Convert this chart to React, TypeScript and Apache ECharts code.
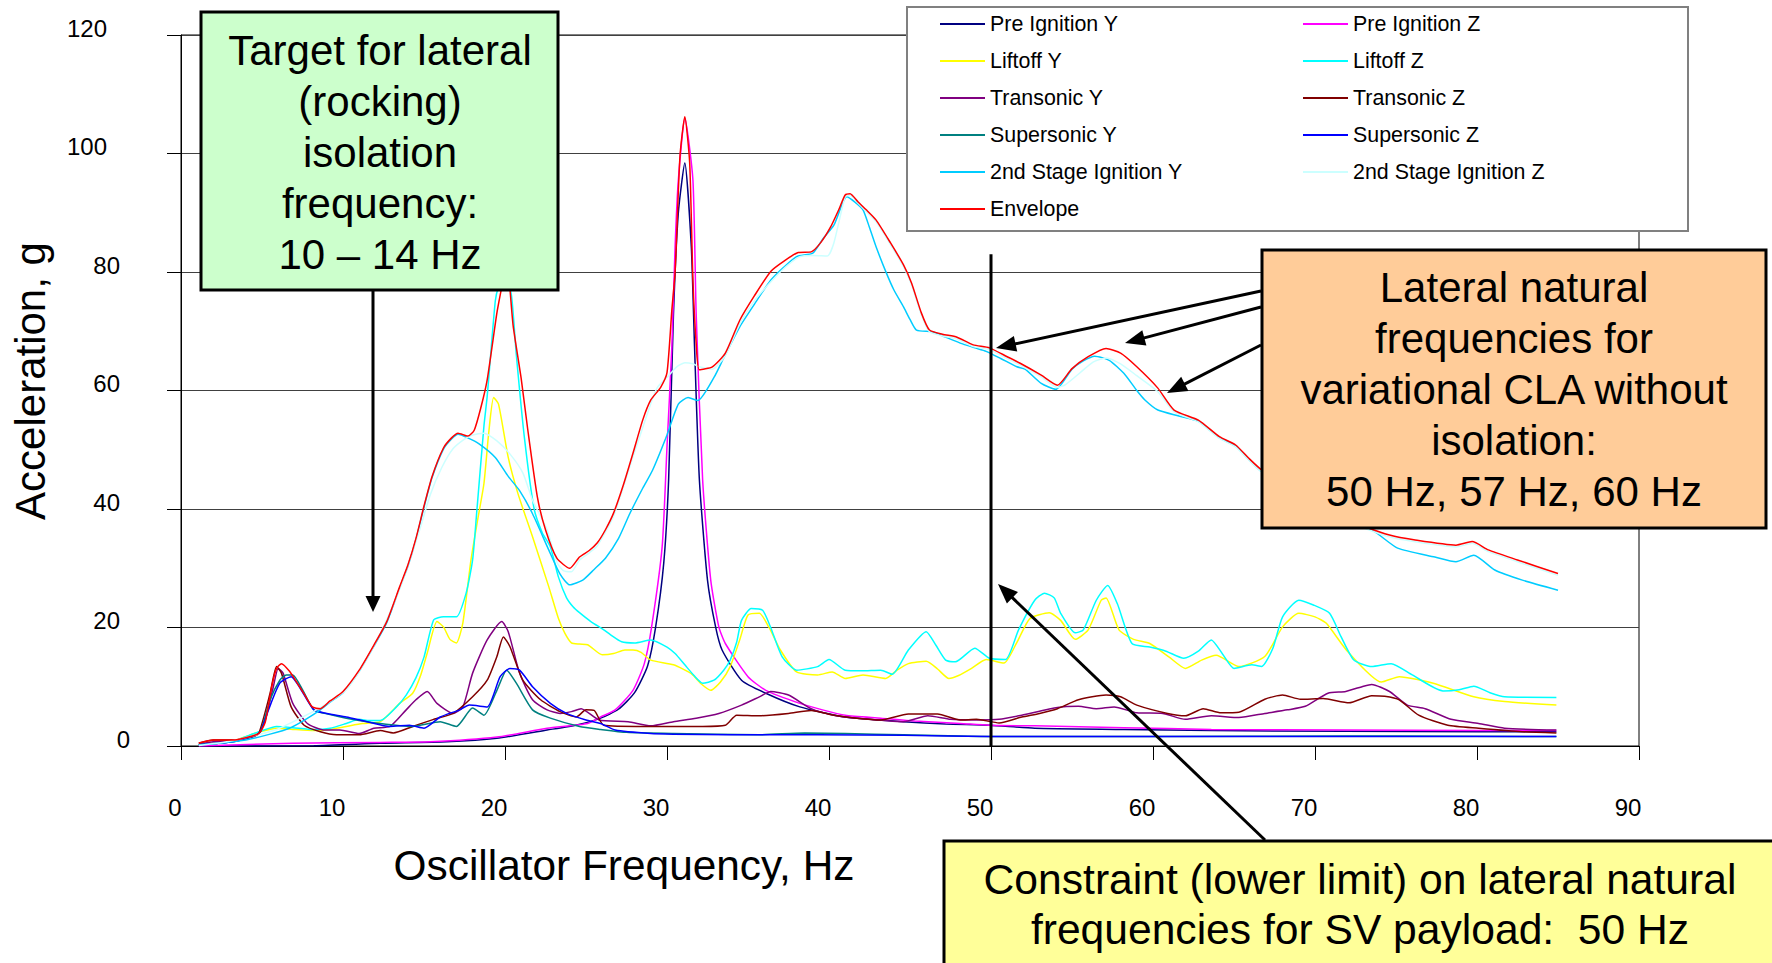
import React, { useEffect, useRef } from "react";
import * as echarts from "echarts";

const FONT = "'Liberation Sans', Arial, sans-serif";

const seriesNames = [
  "Pre Ignition Y", "Pre Ignition Z", "Liftoff Y", "Liftoff Z",
  "Transonic Y", "Transonic Z", "Supersonic Y", "Supersonic Z",
  "2nd Stage Ignition Y", "2nd Stage Ignition Z", "Envelope",
];
const seriesColors = [
  "#000080", "#FF00FF", "#FFFF00", "#00FFFF",
  "#800080", "#800000", "#008080", "#0000FF",
  "#00CCFF", "#CCFFFF", "#FF0000",
];
const legendLeftNames = ["Pre Ignition Y", "Liftoff Y", "Transonic Y", "Supersonic Y", "2nd Stage Ignition Y", "Envelope"];
const legendRightNames = ["Pre Ignition Z", "Liftoff Z", "Transonic Z", "Supersonic Z", "2nd Stage Ignition Z"];

const xTicks = [0, 10, 20, 30, 40, 50, 60, 70, 80, 90];
const yTicks = [0, 20, 40, 60, 80, 100, 120];

// [frequency Hz, acceleration g]
const preIgnitionY = [[1.1,0.0],[8.2,0.05],[12.3,0.45],[16.4,0.7],[19.5,1.3],[22.6,2.7],[24.5,3.6],[25.9,4.7],[27.0,6.2],[28.0,9.0],[28.8,13.5],[29.3,20.1],[29.8,30.9],[30.1,44.9],[30.4,73.0],[30.7,90.0],[31.1,98.4],[31.5,84.3],[31.7,67.4],[32.0,44.9],[32.5,28.0],[33.0,20.1],[33.4,16.2],[34.6,11.1],[36.1,8.9],[38.2,6.6],[41.0,4.9],[44.6,4.1],[47.2,3.7],[49.9,3.5],[52.7,3.0],[58.2,2.8],[63.6,2.6],[80.1,2.4],[84.9,2.4]];
const preIgnitionZ = [[1.1,0.0],[6.9,0.45],[12.3,0.6],[15.4,0.7],[19.5,1.5],[22.6,3.0],[25.1,3.8],[25.9,4.9],[26.8,6.1],[27.9,9.4],[28.6,13.9],[29.05,20.1],[29.7,33.6],[30.0,50.5],[30.3,67.4],[30.5,84.3],[30.7,95.5],[31.1,106.0],[31.6,95.5],[31.8,73.0],[32.2,44.9],[32.7,28.0],[33.2,20.1],[33.6,17.3],[35.0,11.7],[36.1,9.4],[38.2,7.2],[39.6,6.1],[41.0,5.2],[43.2,4.7],[45.3,4.2],[48.1,3.8],[49.9,3.5],[52.7,3.4],[58.2,3.1],[63.6,2.8],[71.9,2.7],[80.1,2.6],[84.9,2.6]];
const liftoffY = [[1.1,0.2],[2.2,0.5],[3.2,0.8],[4.2,1.8],[4.9,2.4],[5.9,3.0],[6.9,2.8],[8.2,2.6],[9.2,2.8],[10.2,3.3],[11.2,3.8],[12.3,4.1],[13.5,7.2],[14.3,8.9],[14.8,12.0],[15.2,15.7],[15.8,21.0],[16.2,20.1],[16.6,18.0],[17.0,17.4],[17.4,20.8],[17.9,31.4],[18.3,38.0],[18.7,44.3],[19.0,53.0],[19.3,58.8],[19.6,57.7],[20.2,48.7],[20.8,42.6],[21.7,35.3],[22.7,26.9],[23.3,21.5],[23.7,19.0],[24.1,17.4],[24.6,17.2],[25.1,17.1],[26.0,15.4],[26.7,15.6],[27.4,16.2],[27.9,16.2],[28.4,15.8],[29.0,14.5],[30.4,13.7],[31.5,12.2],[32.1,10.5],[32.7,9.4],[33.3,10.8],[33.9,13.4],[34.5,18.0],[35.0,22.1],[35.7,22.4],[36.3,20.0],[37.0,16.2],[38.0,12.5],[39.3,12.0],[40.2,12.5],[41.0,11.4],[42.1,12.0],[43.5,11.4],[44.2,12.8],[44.9,13.9],[46.0,14.3],[46.7,13.0],[47.4,11.4],[48.0,11.9],[48.8,13.1],[49.7,14.6],[50.8,14.0],[51.6,17.5],[52.4,21.5],[53.6,22.5],[54.3,21.2],[55.2,18.0],[56.0,19.6],[56.8,24.6],[57.1,25.0],[57.9,19.6],[58.8,18.0],[59.8,17.3],[61.0,15.0],[62.0,13.1],[63.0,14.5],[63.9,15.3],[65.3,13.4],[66.9,15.1],[68.0,20.1],[69.0,22.4],[70.0,21.8],[70.7,20.7],[72.0,16.0],[74.1,10.8],[75.2,11.7],[77.3,10.6],[79.8,8.3],[81.7,7.5],[84.9,6.9]];
const liftoffZ = [[1.1,0.2],[2.2,0.5],[3.2,0.8],[4.2,1.8],[4.9,2.5],[5.9,3.3],[6.9,3.1],[8.2,2.8],[9.2,3.0],[10.2,3.8],[11.0,4.5],[11.6,4.3],[12.3,4.3],[13.3,6.6],[13.9,8.6],[14.5,11.5],[15.0,15.0],[15.6,21.3],[16.2,21.8],[17.0,21.8],[17.6,25.8],[18.0,31.4],[18.25,39.3],[18.7,54.0],[18.9,59.0],[19.4,75.1],[19.6,77.5],[20.0,80.0],[20.4,76.0],[20.7,66.0],[21.2,52.0],[21.8,40.0],[22.3,36.0],[22.8,33.6],[23.3,28.5],[23.8,25.0],[24.2,23.5],[24.6,22.5],[25.3,21.0],[26.1,19.6],[26.5,18.8],[27.2,17.6],[28.0,17.4],[29.0,17.9],[30.0,16.7],[30.5,15.6],[31.1,13.7],[31.7,11.8],[32.2,10.6],[32.9,11.1],[33.5,12.8],[33.9,14.5],[34.3,17.5],[34.6,21.2],[35.2,23.2],[35.9,22.9],[36.4,20.0],[37.1,15.1],[38.0,12.8],[39.3,13.4],[40.0,14.6],[41.0,12.8],[42.0,12.7],[43.2,12.8],[43.9,12.1],[44.9,16.2],[46.0,19.3],[46.6,17.0],[47.2,14.5],[47.8,14.2],[49.0,16.5],[49.9,14.8],[50.9,14.6],[51.7,19.6],[52.7,24.6],[53.3,25.8],[53.9,25.0],[54.3,22.4],[55.2,19.1],[55.7,19.6],[56.5,24.6],[57.2,27.1],[57.8,24.0],[58.7,17.3],[59.8,16.7],[60.8,16.0],[61.9,14.8],[62.8,16.0],[63.6,17.9],[64.3,15.5],[65.0,13.1],[66.1,13.7],[66.7,13.4],[67.4,16.5],[68.0,21.8],[69.0,24.6],[69.9,23.8],[70.9,22.4],[71.6,18.5],[72.4,14.5],[73.5,13.4],[74.7,13.9],[76.0,12.0],[77.9,9.3],[78.9,9.5],[79.8,10.1],[80.8,9.0],[81.7,8.3],[84.9,8.2]];
const transonicY = [[1.1,0.3],[2.0,0.7],[3.2,0.9],[4.4,1.6],[4.8,2.1],[5.2,4.4],[5.7,10.0],[6.0,13.1],[6.3,12.3],[6.9,7.2],[7.8,3.8],[8.8,2.7],[9.8,2.7],[11.0,2.1],[11.9,3.0],[12.9,3.3],[13.9,6.1],[14.5,7.8],[15.2,9.2],[15.8,7.2],[16.8,5.5],[17.4,6.6],[18.0,12.3],[18.9,17.9],[19.8,21.0],[20.2,19.3],[20.9,12.3],[21.7,7.8],[22.6,6.1],[23.4,5.5],[24.1,5.8],[24.7,6.3],[25.8,4.4],[27.6,4.1],[29.0,3.4],[30.4,4.1],[31.8,4.7],[33.2,5.5],[34.6,6.9],[35.7,8.3],[36.4,9.2],[37.5,8.6],[38.9,6.3],[40.3,5.2],[41.7,4.7],[44.6,4.1],[46.1,5.1],[47.5,4.5],[49.1,4.4],[50.5,4.5],[51.9,5.2],[54.1,6.5],[55.4,6.7],[56.5,6.3],[57.6,6.6],[59.0,5.6],[60.6,5.5],[62.0,4.5],[63.6,5.1],[65.3,4.8],[66.9,5.5],[68.3,6.1],[69.4,6.7],[70.8,8.9],[71.9,9.2],[73.0,10.1],[73.5,10.4],[74.6,9.2],[75.7,6.9],[76.8,6.3],[78.4,4.5],[80.1,3.8],[81.7,3.0],[84.9,2.7]];
const transonicZ = [[1.1,0.45],[2.0,1.0],[3.2,1.0],[4.4,1.5],[4.8,2.1],[5.5,8.9],[5.9,13.4],[6.2,12.3],[6.8,6.6],[7.6,3.5],[8.6,2.4],[9.6,1.9],[11.0,1.9],[12.3,2.6],[13.1,2.2],[14.3,3.3],[15.6,4.5],[16.8,5.5],[18.0,8.3],[18.9,11.1],[19.5,15.1],[19.9,18.4],[20.3,16.8],[21.1,11.1],[22.2,7.8],[23.4,5.8],[24.4,4.9],[25.0,6.1],[25.5,6.0],[26.1,3.5],[28.6,3.3],[32.2,3.3],[33.6,3.5],[34.3,5.2],[35.7,5.1],[37.5,5.5],[38.9,6.0],[40.3,5.2],[41.7,4.7],[43.2,4.4],[44.9,5.4],[46.7,5.4],[48.1,4.4],[49.1,4.5],[50.5,3.9],[51.9,4.9],[53.0,5.5],[54.1,6.3],[55.4,7.8],[57.1,8.6],[58.0,8.3],[59.0,6.9],[60.9,5.5],[62.0,5.1],[63.1,6.3],[64.2,5.6],[65.3,5.7],[66.9,7.9],[68.0,8.6],[69.1,7.9],[70.5,8.0],[72.1,7.3],[73.5,8.5],[74.3,8.4],[75.2,7.8],[76.4,5.2],[78.2,3.5],[80.1,3.0],[82.8,2.4],[84.9,2.2]];
const supersonicY = [[1.1,0.2],[3.2,0.7],[4.4,1.6],[4.9,2.4],[5.5,7.8],[6.1,11.1],[6.5,12.0],[6.9,12.0],[7.5,9.5],[8.2,6.1],[9.2,5.3],[10.2,4.7],[12.3,3.8],[14.3,3.3],[16.0,4.1],[17.0,3.3],[18.0,6.4],[18.7,5.2],[19.5,9.4],[20.1,12.8],[20.7,10.6],[21.7,6.1],[22.8,4.7],[24.6,3.3],[25.9,2.8],[27.5,2.3],[30.4,2.1],[35.7,1.9],[38.5,2.2],[41.0,2.1],[44.6,1.9],[49.9,1.6],[60.0,1.6],[72.0,1.7],[75.0,1.7],[84.9,1.6]];
const supersonicZ = [[1.1,0.2],[3.2,0.7],[4.4,1.6],[4.9,2.4],[5.4,6.1],[6.1,10.6],[6.8,11.7],[7.3,10.0],[8.2,6.1],[9.0,5.5],[10.2,4.9],[11.5,4.1],[12.9,3.3],[14.1,3.5],[15.0,3.0],[16.0,4.9],[17.2,6.1],[17.8,6.9],[18.9,6.6],[19.7,11.7],[20.3,13.1],[20.9,12.8],[21.7,10.0],[22.8,7.2],[23.8,5.5],[25.0,4.4],[25.9,3.8],[26.8,2.7],[29.0,2.1],[30.4,2.0],[33.9,1.9],[39.3,1.9],[44.6,1.8],[49.9,1.6],[60.0,1.6],[70.0,1.6],[84.9,1.6]];
const stage2Y = [[1.1,0.2],[2.5,0.5],[4.0,1.0],[5.5,2.0],[6.7,3.0],[7.7,4.5],[8.6,6.1],[9.2,7.4],[10.0,9.0],[11.0,12.6],[11.9,16.8],[12.7,20.8],[13.5,26.7],[14.0,30.3],[14.5,34.8],[15.0,40.3],[15.5,45.3],[16.2,50.1],[16.7,51.8],[17.1,52.6],[17.7,52.0],[18.4,51.0],[19.4,48.7],[20.2,45.5],[20.9,43.1],[21.7,39.2],[22.7,33.1],[23.4,29.0],[24.0,27.2],[24.8,28.0],[25.5,29.8],[26.2,31.7],[27.0,35.0],[27.7,39.2],[28.5,43.5],[29.1,46.5],[30.0,52.5],[30.7,57.7],[31.3,58.8],[31.9,58.3],[32.9,62.2],[33.5,65.5],[34.5,70.8],[35.5,75.0],[36.4,78.6],[37.2,80.8],[38.0,82.6],[39.0,83.2],[39.6,85.5],[40.3,87.9],[41.1,92.7],[41.6,91.8],[42.1,90.5],[42.5,87.5],[42.9,84.3],[43.5,80.1],[44.0,77.0],[44.6,74.1],[45.0,72.0],[45.4,70.2],[46.4,69.9],[47.2,69.0],[48.1,68.0],[49.0,67.2],[49.7,66.6],[50.6,65.4],[51.6,64.0],[52.1,63.6],[53.1,61.2],[54.0,60.2],[55.0,63.6],[55.7,65.0],[56.4,65.8],[57.3,65.1],[58.2,62.9],[59.0,60.0],[59.5,58.4],[60.3,56.7],[61.6,55.7],[62.8,54.8],[64.1,52.0],[65.1,50.6],[65.9,48.4],[66.7,46.3],[68.5,43.0],[70.5,40.0],[72.0,37.8],[73.6,36.3],[75.1,33.4],[77.4,31.9],[78.7,31.1],[79.8,32.2],[81.1,29.7],[82.8,28.0],[85.0,26.3]];
const stage2Z = [[1.1,0.1],[3.0,0.8],[5.9,2.8],[7.0,4.2],[8.3,6.0],[9.2,7.5],[10.2,9.5],[11.2,13.5],[12.3,19.0],[13.5,26.5],[14.7,36.2],[15.4,42.5],[16.1,47.0],[16.8,50.2],[17.5,51.8],[18.0,52.5],[18.7,52.8],[19.5,51.5],[20.3,49.3],[21.1,46.1],[21.7,41.5],[22.6,36.5],[23.2,31.0],[23.6,29.6],[24.1,29.4],[24.6,31.4],[25.2,32.6],[25.7,33.8],[26.7,38.8],[27.9,48.8],[29.0,57.8],[29.4,60.5],[30.1,62.5],[30.6,64.0],[31.1,64.7],[31.6,64.5],[32.0,64.0],[32.8,63.6],[33.6,65.9],[34.5,71.3],[35.5,75.5],[36.5,78.6],[37.3,80.8],[38.2,82.6],[39.0,82.8],[39.9,82.7],[40.3,84.9],[41.0,92.7],[41.3,92.9],[41.8,91.6],[42.3,90.2],[42.9,88.5],[43.8,84.6],[44.6,80.9],[45.1,77.8],[45.7,72.8],[46.2,69.9],[47.0,69.2],[47.9,68.7],[48.9,67.4],[49.9,66.9],[51.0,65.4],[51.8,64.3],[53.1,62.3],[54.1,60.5],[54.6,61.0],[55.5,63.0],[56.3,64.8],[57.1,65.5],[58.0,64.5],[59.0,62.5],[60.3,59.8],[61.3,56.4],[62.8,54.7],[64.1,51.9],[65.1,50.5],[65.9,48.3],[66.7,46.3],[68.5,43.2],[70.5,40.2],[72.0,38.0],[73.1,36.7],[74.6,35.3],[76.1,34.5],[78.7,33.6],[79.7,34.2],[80.7,32.8],[82.5,31.1],[85.0,28.8]];
const envelope = [[1.1,0.5],[2.0,1.0],[3.2,1.0],[4.0,1.4],[4.8,2.1],[5.2,4.0],[5.6,10.0],[5.9,13.1],[6.2,13.9],[6.7,12.6],[7.2,10.5],[7.6,8.8],[8.1,6.6],[8.6,6.3],[9.2,7.6],[10.0,9.2],[11.0,12.8],[11.9,17.0],[12.7,21.0],[13.5,26.9],[14.0,30.5],[14.5,35.0],[15.0,40.5],[15.5,45.5],[16.2,50.3],[16.7,52.0],[17.1,52.8],[17.7,52.3],[18.1,53.3],[18.5,57.0],[18.9,61.8],[19.5,73.1],[19.8,77.5],[20.1,82.0],[20.5,71.0],[21.0,62.0],[21.4,53.5],[22.0,42.0],[22.5,36.5],[23.2,31.7],[24.0,30.0],[24.6,31.9],[25.2,33.0],[25.7,34.3],[26.2,36.5],[26.7,39.3],[27.3,44.0],[27.9,49.4],[28.5,55.0],[29.0,58.4],[29.6,60.5],[30.0,63.0],[30.3,73.6],[30.5,80.0],[30.8,99.5],[31.1,106.2],[31.4,98.4],[31.6,78.6],[31.8,68.0],[32.0,63.5],[32.8,64.0],[33.6,66.3],[34.5,71.9],[35.4,76.0],[36.4,80.1],[37.2,81.8],[38.1,83.3],[38.9,83.4],[39.5,85.0],[40.1,87.6],[40.6,90.5],[41.0,93.0],[41.3,93.2],[41.8,91.8],[42.3,90.5],[42.9,88.8],[43.8,84.9],[44.6,81.2],[45.1,78.1],[45.7,73.1],[46.2,70.2],[47.0,69.5],[47.9,69.0],[48.9,67.7],[49.9,67.2],[51.0,65.7],[51.8,64.6],[53.1,62.6],[54.1,60.9],[55.0,63.7],[56.0,65.7],[57.1,67.1],[58.0,66.3],[59.0,64.0],[60.3,60.4],[61.3,56.7],[62.8,55.0],[64.1,52.2],[65.1,50.8],[65.9,48.6],[66.7,46.6],[68.5,43.5],[70.5,40.5],[72.0,38.3],[73.1,37.0],[74.6,35.6],[76.1,34.8],[78.7,33.9],[79.7,34.5],[80.7,33.1],[82.5,31.4],[85.0,29.1]];

const seriesData = [preIgnitionY, preIgnitionZ, liftoffY, liftoffZ, transonicY, transonicZ, supersonicY, supersonicZ, stage2Y, stage2Z, envelope];

// 50 Hz constraint line
const constraintLine = [[50, 0], [50, 83]];

const greenText = "Target for lateral\n(rocking)\nisolation\nfrequency:\n10 – 14 Hz";
const orangeText = "Lateral natural\nfrequencies for\nvariational CLA without\nisolation:\n50 Hz, 57 Hz, 60 Hz";
const yellowText = "Constraint (lower limit) on lateral natural\nfrequencies for SV payload:  50 Hz";

function arrow(x1: number, y1: number, x2: number, y2: number, len = 20, w = 16, lw = 3) {
  const dx = x2 - x1, dy = y2 - y1;
  const L = Math.hypot(dx, dy);
  const ux = dx / L, uy = dy / L;
  const bx = x2 - ux * len, by = y2 - uy * len;
  const px = -uy, py = ux;
  return [
    { type: "line", z: 101, silent: true, shape: { x1, y1, x2: bx + ux * 2, y2: by + uy * 2 }, style: { stroke: "#000", lineWidth: lw } },
    { type: "polygon", z: 101, silent: true, shape: { points: [[x2, y2], [bx + (px * w) / 2, by + (py * w) / 2], [bx - (px * w) / 2, by - (py * w) / 2]] }, style: { fill: "#000" } },
  ];
}

function box(x: number, y: number, w: number, h: number, fill: string) {
  return { type: "rect", z: 100, silent: true, shape: { x, y, width: w, height: h }, style: { fill, stroke: "#000", lineWidth: 3 } };
}

function label(text: string, x: number, y: number, lineHeight: number, size = 42) {
  return {
    type: "text", z: 102, silent: true, x, y,
    style: { text, fill: "#000", fontSize: size, fontFamily: FONT, textAlign: "center", textVerticalAlign: "middle", lineHeight },
  };
}

const tickText = { fontSize: 24, fontFamily: FONT, color: "#000" };

export default function App() {
  const ref = useRef<HTMLDivElement>(null);
  useEffect(() => {
    if (!ref.current) return;
    document.body.style.margin = "0";
    const chart = echarts.init(ref.current, undefined, { renderer: "svg" });
    const legendCommon = {
      orient: "vertical",
      itemWidth: 45,
      itemHeight: 2,
      itemGap: 16,
      icon: "rect",
      padding: 0,
      selectedMode: false,
      z: 6,
      textStyle: { fontSize: 21.4, fontFamily: FONT, color: "#000", lineHeight: 21 },
    };
    const option: any = {
      animation: false,
      backgroundColor: "#fff",
      grid: { left: 181, right: 133, top: 35, bottom: 217, show: true, borderColor: "#000", borderWidth: 1, backgroundColor: "transparent" },
      xAxis: {
        type: "value", min: 0, max: 90, interval: 10,
        axisLine: { show: true, onZero: false, lineStyle: { color: "#000", width: 1 } },
        axisTick: { show: true, inside: false, length: 14, lineStyle: { color: "#000" } },
        axisLabel: {
          ...tickText, margin: 49,
          formatter: (v: number) => (xTicks.includes(v) ? `{x${String(v).length}|${v}}` : ""),
          rich: {
            x1: { ...tickText, padding: [0, 12, 0, 0] },
            x2: { ...tickText, padding: [0, 22, 0, 0] },
          },
        },
        splitLine: { show: false },
      },
      yAxis: {
        type: "value", min: 0, max: 120, interval: 20,
        axisLine: { show: true, onZero: false, lineStyle: { color: "#000", width: 1 } },
        axisTick: { show: true, inside: false, length: 14, lineStyle: { color: "#000" } },
        axisLabel: {
          ...tickText, margin: 51, align: "right", verticalAlign: "bottom", lineHeight: 14,
          formatter: (v: number) => (yTicks.includes(v) ? `{y${String(v).length}|${v}}` : ""),
          rich: {
            y1: { ...tickText, lineHeight: 14, padding: [0, 0, 0, 0] },
            y2: { ...tickText, lineHeight: 14, padding: [0, 10, 0, 0] },
            y3: { ...tickText, lineHeight: 14, padding: [0, 23, 0, 0] },
          },
        },
        splitLine: { show: true, lineStyle: { color: "#404040", width: 1 } },
      },
      legend: [
        { ...legendCommon, data: legendLeftNames, left: 940, top: 13.5 },
        { ...legendCommon, data: legendRightNames, left: 1303, top: 13.5 },
      ],
      series: [
        ...seriesNames.map((name, i) => ({
          name, type: "line", data: seriesData[i], color: seriesColors[i],
          showSymbol: false, symbol: "none", smooth: 0.2, silent: true,
          lineStyle: { width: 1.5, color: seriesColors[i] },
          itemStyle: { color: seriesColors[i] },
          z: 2 + i * 0.01,
        })),
        {
          name: "50 Hz constraint", type: "line", data: constraintLine, showSymbol: false, symbol: "none", silent: true,
          lineStyle: { width: 3, color: "#000" }, itemStyle: { color: "#000" }, z: 3,
        },
      ],
      graphic: [
        { type: "rect", z: 5, silent: true, shape: { x: 907, y: 7, width: 781, height: 224 }, style: { fill: "#fff", stroke: "#808080", lineWidth: 2 } },
        box(201, 12, 357, 278, "#CCFFCC"),
        label(greenText, 380, 152, 51),
        ...arrow(373, 291, 373, 612, 16, 15),
        box(1262, 250, 504, 278, "#FFCC99"),
        label(orangeText, 1514, 389, 51),
        ...arrow(1261, 291, 996, 348),
        ...arrow(1261, 307, 1125, 343),
        ...arrow(1261, 345, 1167, 393),
        box(944, 841, 840, 140, "#FFFF99"),
        label(yellowText, 1360, 904, 50, 42.6),
        ...arrow(1265, 840, 998, 584),
        label("Oscillator Frequency, Hz", 624, 865, 42, 42.4),
        { type: "text", z: 102, silent: true, x: 30.5, y: 381, rotation: Math.PI / 2,
          style: { text: "Acceleration, g", fill: "#000", fontSize: 42, fontFamily: FONT, textAlign: "center", textVerticalAlign: "middle" } },
      ],
    };
    chart.setOption(option);
    return () => chart.dispose();
  }, []);
  return <div ref={ref} style={{ position: "fixed", left: 0, top: 0, width: 1772, height: 963, background: "#fff" }} />;
}
